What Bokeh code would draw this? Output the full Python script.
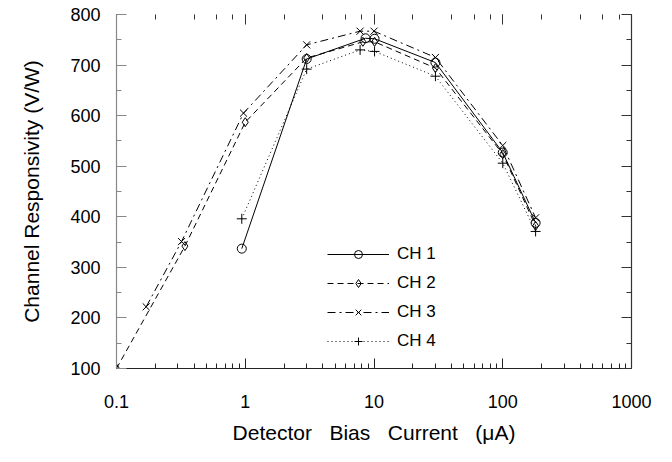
from bokeh.plotting import figure
from bokeh.models import (LogAxis, LinearAxis, Legend, LegendItem, CustomJSTickFormatter,
                          FixedTicker, Range1d)
from bokeh.embed import file_html
from bokeh.resources import INLINE

# ---- data ----
ch1_x = [0.94, 3.0, 8.6, 10.1, 30, 100, 180]
ch1_y = [337, 712, 753, 752, 705, 527, 388]
ch2_x = [0.1, 0.34, 1.0, 3.0, 8.2, 10.1, 30, 100, 180]
ch2_y = [100, 342, 587, 714, 746, 746, 694, 524, 382]
ch3_x = [0.17, 0.32, 0.97, 3.0, 7.8, 10.0, 30, 100, 180]
ch3_y = [222, 351, 605, 740, 767, 767, 715, 541, 398]
ch4_x = [0.94, 3.0, 7.8, 10.1, 30, 100, 180]
ch4_y = [396, 692, 730, 727, 678, 506, 371]

y_ticks = [100, 200, 300, 400, 500, 600, 700, 800]
y_minor = [150, 250, 350, 450, 550, 650, 750]
x_ticks = [0.1, 1, 10, 100, 1000]
series_names = ["CH 1", "CH 2", "CH 3", "CH 4"]

FONT = "Liberation Sans"
W, H = 660, 446

p = figure(width=W, height=H, x_axis_type="log", output_backend="svg",
           toolbar_location=None, x_range=Range1d(0.1, 1000), y_range=Range1d(100, 800),
           min_border_left=116, min_border_right=29, min_border_top=14, min_border_bottom=70)
p.grid.visible = False
p.outline_line_color = None
p.background_fill_color = "white"
p.border_fill_color = "white"

fmt = CustomJSTickFormatter(code="return String(+tick.toPrecision(3));")

def style_axis(ax, color, labels=True):
    ax.axis_line_color = color
    ax.major_tick_line_color = color
    ax.minor_tick_line_color = color
    ax.major_tick_in = 10
    ax.major_tick_out = 0
    ax.minor_tick_in = 5
    ax.minor_tick_out = 0
    ax.axis_line_width = 1.2
    if labels:
        ax.major_label_text_font = FONT
        ax.major_label_text_font_size = "18px"
        ax.major_label_text_color = "black"
        ax.axis_label_text_font = FONT
        ax.axis_label_text_font_style = "normal"
        ax.axis_label_text_color = "black"
    else:
        ax.major_label_text_font_size = "0px"
        ax.major_label_text_alpha = 0

xa = p.xaxis[0]
style_axis(xa, "#222")
xa.formatter = fmt
xa.major_label_standoff = 26
sp = "\u00a0\u00a0\u00a0"
xa.axis_label = "Detector" + sp + "Bias" + sp + "Current" + sp + "(\u03bcA)"
xa.axis_label_text_font_size = "21px"
xa.axis_label_standoff = 10

ya = p.yaxis[0]
style_axis(ya, "#888")
ya.ticker = FixedTicker(ticks=y_ticks, minor_ticks=y_minor)
ya.major_label_standoff = 16
ya.axis_label = "Channel Responsivity (V/W)"
ya.axis_label_text_font_size = "21px"
ya.axis_label_standoff = 24

top = LogAxis()
style_axis(top, "white", labels=False)
top.major_tick_line_color = "#333"
top.minor_tick_line_color = "#333"
top.axis_line_color = None
p.add_layout(top, "above")

right = LinearAxis(ticker=FixedTicker(ticks=y_ticks, minor_ticks=y_minor))
style_axis(right, "#333", labels=False)
p.add_layout(right, "right")

# ---- series ----
styles = [
    (ch1_x, ch1_y, "solid", "circle", 9),
    (ch2_x, ch2_y, "6 4", "diamond", 9),
    (ch3_x, ch3_y, "8 4 2 4", "x", 10),
    (ch4_x, ch4_y, "1 3", "cross", 10),
]
items = []
for name, (xs, ys, dash, marker, size) in zip(series_names, styles):
    ln = p.line(xs, ys, line_color="black", line_width=1, line_dash=dash)
    sc = p.scatter(xs, ys, marker=marker, size=size, fill_color=None,
                   line_color="black", line_width=1)
    items.append(LegendItem(label=name, renderers=[ln, sc]))

leg = Legend(items=items, location=(211, 17))
leg.glyph_width = 62
leg.glyph_height = 20
leg.label_height = 20
leg.spacing = 9
leg.padding = 0
leg.margin = 0
leg.label_standoff = 8
leg.border_line_color = None
leg.background_fill_alpha = 0
leg.label_text_font = FONT
leg.label_text_font_size = "17px"
leg.label_text_color = "black"
p.add_layout(leg, "center")

open("out.html", "w").write(file_html(p, INLINE))
